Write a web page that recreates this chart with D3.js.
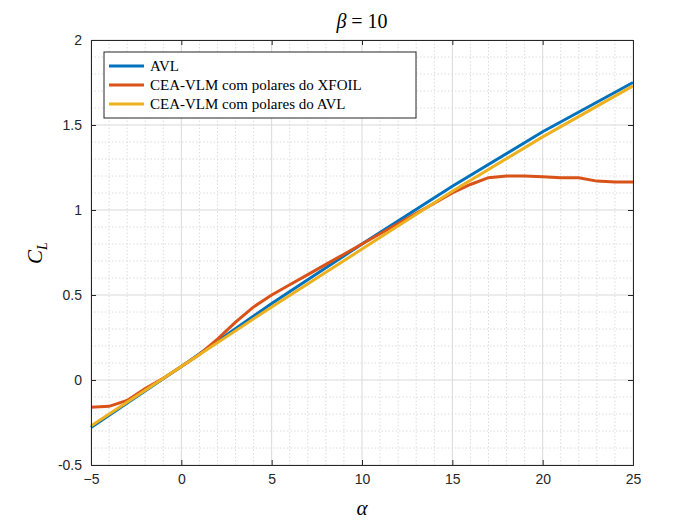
<!DOCTYPE html>
<html>
<head>
<meta charset="utf-8">
<script src="https://cdn.jsdelivr.net/npm/d3@7"></script>
<style>
  body { margin: 0; background: #fff; }
  .tick text { font-family: "Liberation Sans", Arial, sans-serif; font-size: 14px; fill: #262626; }
</style>
</head>
<body>
<svg id="chart" width="700" height="525"></svg>
<script>
const alpha = d3.range(-5, 26);
const avlAlpha = [-5, 0, 5, 10, 15, 20, 25];
const avl = [-0.28, 0.08, 0.45, 0.80, 1.14, 1.46, 1.75];
const vlmAvl = [-0.27, 0.08, 0.43, 0.77, 1.11, 1.43, 1.73];
const vlmXfoil = [-0.16, -0.155, -0.12, -0.05, 0.01, 0.08, 0.15, 0.24, 0.34, 0.43, 0.50,
  0.56, 0.62, 0.68, 0.74, 0.80, 0.86, 0.92, 0.98, 1.04, 1.10, 1.15, 1.19, 1.20, 1.20,
  1.195, 1.19, 1.19, 1.17, 1.165, 1.165];
const xTicks = [-5, 0, 5, 10, 15, 20, 25];
const yTicks = [-0.5, 0, 0.5, 1, 1.5, 2];

const svg = d3.select('#chart');
const mLeft = 91, mRight = 633, mTop = 40, mBottom = 465;

const x = d3.scaleLinear().domain([-5, 25]).range([mLeft, mRight]);
const y = d3.scaleLinear().domain([-0.5, 2]).range([mBottom, mTop]);

// minor grid
const grid = svg.append('g');
grid.selectAll('.mx').data(d3.range(-5, 26).filter(v => v % 5 !== 0)).enter().append('line')
  .attr('x1', d => x(d)).attr('x2', d => x(d)).attr('y1', mTop).attr('y2', mBottom)
  .attr('stroke', '#dcdcdc').attr('stroke-dasharray', '1.5,2');
grid.selectAll('.my').data(d3.range(-5, 21).map(v => v / 10).filter(v => Math.round(v * 10) % 5 !== 0)).enter().append('line')
  .attr('y1', d => y(d)).attr('y2', d => y(d)).attr('x1', mLeft).attr('x2', mRight)
  .attr('stroke', '#dcdcdc').attr('stroke-dasharray', '1.5,2');
// major grid
grid.selectAll('.gx').data(xTicks).enter().append('line')
  .attr('x1', d => x(d)).attr('x2', d => x(d)).attr('y1', mTop).attr('y2', mBottom)
  .attr('stroke', '#d9d9d9');
grid.selectAll('.gy').data(yTicks).enter().append('line')
  .attr('y1', d => y(d)).attr('y2', d => y(d)).attr('x1', mLeft).attr('x2', mRight)
  .attr('stroke', '#d9d9d9');

const line = d3.line().x(d => x(d[0])).y(d => y(d[1]));
const series = [
  { pts: d3.zip(avlAlpha, avl), color: '#0072BD', name: 'AVL' },
  { pts: d3.zip(alpha, vlmXfoil), color: '#D95319', name: 'CEA-VLM com polares do XFOIL' },
  { pts: d3.zip(avlAlpha, vlmAvl), color: '#EDB120', name: 'CEA-VLM com polares do AVL' }
];
series.forEach(s => {
  svg.append('path').attr('d', line(s.pts)).attr('fill', 'none')
    .attr('stroke', s.color).attr('stroke-width', 3);
});

// axes
const xAxis = d3.axisBottom(x).tickValues(xTicks).tickSize(-5).tickPadding(9);
const yAxis = d3.axisLeft(y).tickValues(yTicks).tickSize(-5).tickPadding(9)
  .tickFormat(d => d === 0 ? '0' : String(d));
svg.append('g').attr('transform', `translate(0,${mBottom})`).call(xAxis);
svg.append('g').attr('transform', `translate(${mLeft},0)`).call(yAxis);
svg.append('g').attr('transform', `translate(0,${mTop})`).call(d3.axisTop(x).tickValues(xTicks).tickSize(-5).tickFormat(''));
svg.append('g').attr('transform', `translate(${mRight},0)`).call(d3.axisRight(y).tickValues(yTicks).tickSize(-5).tickFormat(''));
svg.selectAll('.domain').attr('stroke', '#262626');
svg.selectAll('.tick line').attr('stroke', '#262626');

// labels
svg.append('text').attr('x', 362).attr('y', 28).attr('text-anchor', 'middle')
  .style('font-family', 'Liberation Serif, serif').style('font-size', '20px')
  .html('<tspan font-style="italic">β</tspan> = 10');
svg.append('text').attr('x', 362).attr('y', 515).attr('text-anchor', 'middle')
  .style('font-family', 'Liberation Serif, serif').style('font-size', '21px').style('font-style', 'italic')
  .text('α');
svg.append('text').attr('transform', 'translate(42,253) rotate(-90)').attr('text-anchor', 'middle')
  .style('font-family', 'Liberation Serif, serif').style('font-size', '21px').style('font-style', 'italic')
  .html('C<tspan font-size="14px" dy="5">L</tspan>');

// legend
const lg = svg.append('g').attr('transform', 'translate(104,52)');
lg.append('rect').attr('width', 312).attr('height', 66).attr('fill', '#fff').attr('stroke', '#262626');
series.forEach((s, i) => {
  const yy = 14 + i * 19;
  lg.append('line').attr('x1', 5).attr('x2', 40).attr('y1', yy).attr('y2', yy)
    .attr('stroke', s.color).attr('stroke-width', 3);
  lg.append('text').attr('x', 46).attr('y', yy + 5)
    .style('font-family', 'Liberation Serif, serif').style('font-size', '15px')
    .text(s.name);
});
</script>
</body>
</html>
